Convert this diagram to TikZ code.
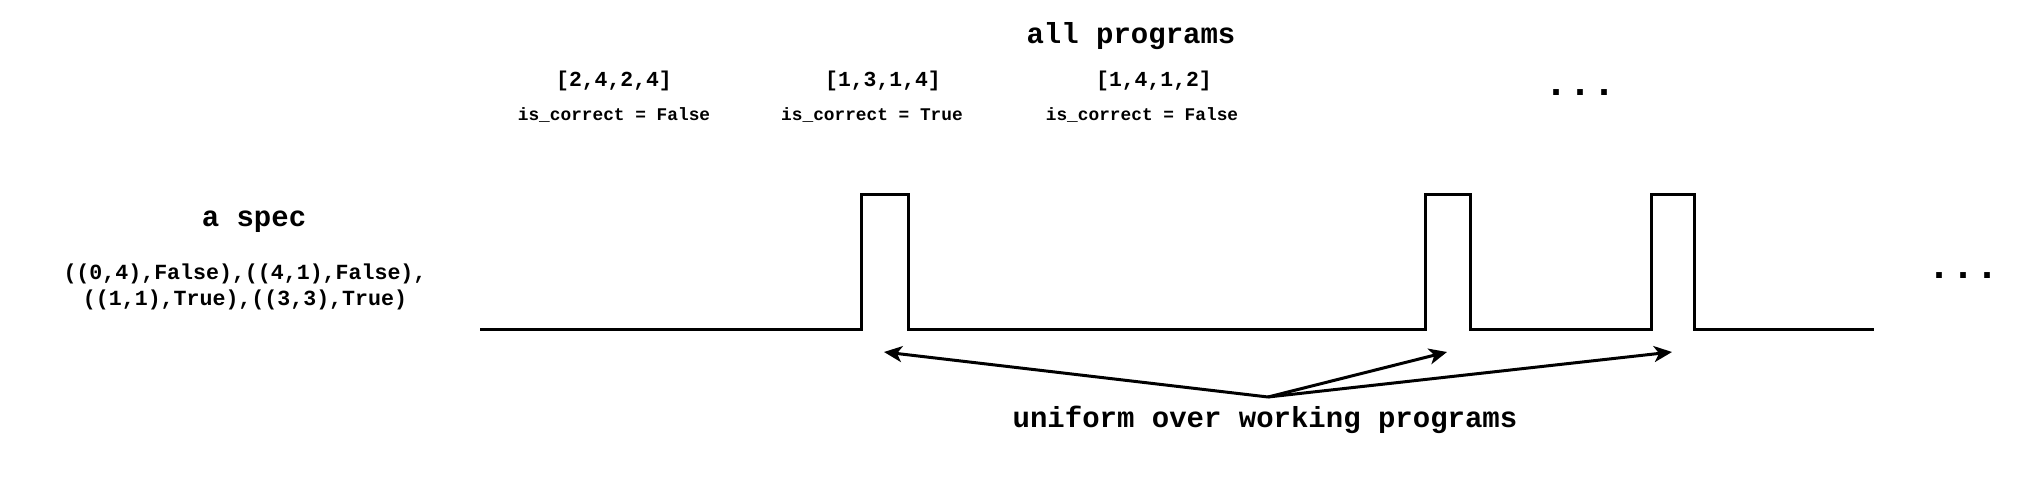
\documentclass[tikz,border=0pt]{standalone}
\usepackage{fontspec}
\setmonofont{Liberation Mono}
\usetikzlibrary{arrows.meta}
\begin{document}
\begin{tikzpicture}[x=0.5pt,y=-0.5pt,
  big/.style={font=\ttfamily\bfseries\fontsize{14.5}{16}\selectfont, inner sep=0pt},
  mid/.style={font=\ttfamily\bfseries\fontsize{10.8}{13}\selectfont, inner sep=0pt},
  prog/.style={font=\ttfamily\bfseries\fontsize{10.7}{12}\selectfont, inner sep=0pt},
  small/.style={font=\ttfamily\bfseries\fontsize{8.9}{10}\selectfont, inner sep=0pt},
  dots/.style={font=\ttfamily\bfseries\fontsize{20}{22}\selectfont, inner sep=0pt},
  wave/.style={line width=1.5pt, line join=miter},
  arr/.style={line width=1.5pt, -{Stealth[length=9pt,width=8pt,inset=2.5pt]}}]
\useasboundingbox (0,0) rectangle (2022,480);

% texts
\node[big] (allprog) at (1131,36) {all programs};
\node[prog] (p1) at (614,81) {[2,4,2,4]};
\node[small] (c1) at (614,115) {is\_correct = False};
\node[prog] (p2) at (883,81) {[1,3,1,4]};
\node[small] (c2) at (872,115) {is\_correct = True};
\node[prog] (p3) at (1154,81) {[1,4,1,2]};
\node[small] (c3) at (1142,115) {is\_correct = False};
\node[dots] (dtop) at (1580,93) {...};
\node[dots] (dright) at (1963,276) {...};
\node[big] (spec) at (254,222) {a spec};
\node[mid, align=center] (specl) at (245,287) {((0,4),False),((4,1),False),\\((1,1),True),((3,3),True)};
\node[big] (unif) at (1265,420) {uniform over working programs};

% waveform
\draw[wave] (480,330) -- (861,330) -- (861,195) -- (908,195) -- (908,330)
  -- (1425,330) -- (1425,195) -- (1470,195) -- (1470,330)
  -- (1651,330) -- (1651,195) -- (1694,195) -- (1694,330) -- (1874,330);

% arrows
\coordinate (src) at (1268,397);
\coordinate (t1) at (884,352);
\coordinate (t2) at (1447,352);
\coordinate (t3) at (1672,352);
\draw[arr] (src) -- (t1);
\draw[arr] (src) -- (t2);
\draw[arr] (src) -- (t3);
\end{tikzpicture}
\end{document}
